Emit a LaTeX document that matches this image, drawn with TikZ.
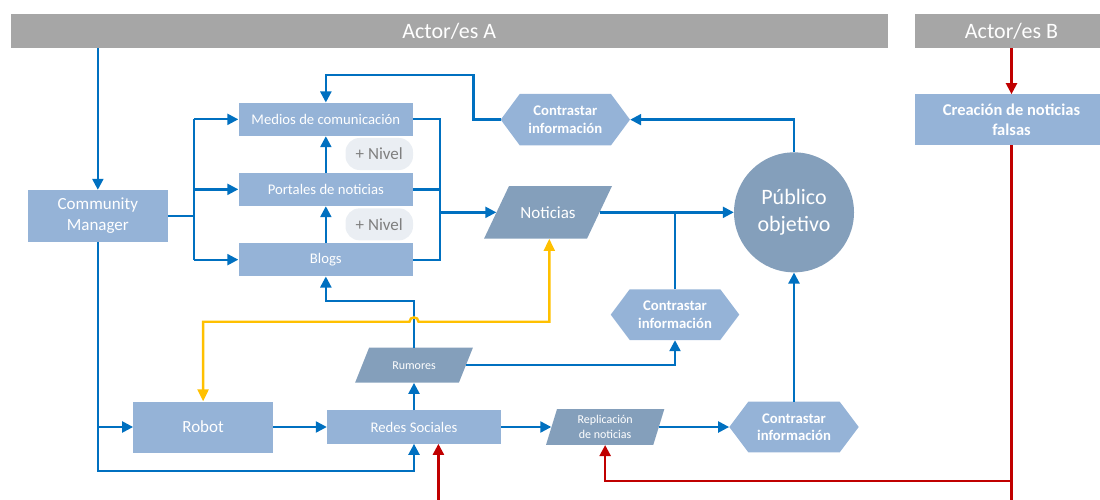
\documentclass[tikz,border=0pt]{standalone}
\usepackage{fontspec}
\setmainfont{Carlito}
\usetikzlibrary{arrows.meta}
\definecolor{boxc}{HTML}{95B3D7}
\definecolor{darkc}{HTML}{849FBB}
\definecolor{hdrc}{HTML}{A6A6A6}
\definecolor{pillc}{HTML}{EAEEF3}
\definecolor{pilltxt}{HTML}{7F7F7F}
\definecolor{lblue}{HTML}{0070C0}
\definecolor{lyel}{HTML}{FFC000}
\definecolor{lred}{HTML}{C00000}
\tikzset{
  hdr/.style={rectangle, fill=hdrc, text=white, inner sep=0pt, font=\fontsize{22}{26}\selectfont},
  box/.style={rectangle, fill=boxc, text=white, inner sep=0pt, align=center},
  pill/.style={rectangle, rounded corners=14pt, fill=pillc, text=pilltxt, inner sep=0pt,
    minimum width=67.5pt, minimum height=32pt, font=\fontsize{17}{20}\selectfont},
  hex/.style={rectangle, inner sep=0pt, align=center, text=white,
    font=\bfseries\fontsize{14.7}{17.5}\selectfont,
    path picture={\fill[boxc] (path picture bounding box.west)
      -- ([xshift=19pt]path picture bounding box.north west)
      -- ([xshift=-19pt]path picture bounding box.north east)
      -- (path picture bounding box.east)
      -- ([xshift=-19pt]path picture bounding box.south east)
      -- ([xshift=19pt]path picture bounding box.south west) -- cycle;}},
  para/.style={rectangle, inner sep=0pt, align=center, text=white,
    path picture={\fill[darkc] (path picture bounding box.south west)
      -- ([xshift=#1]path picture bounding box.north west)
      -- (path picture bounding box.north east)
      -- ([xshift=-#1]path picture bounding box.south east) -- cycle;}},
  fsA/.style={font=\fontsize{14.7}{17.5}\selectfont},
  fsB/.style={font=\fontsize{17}{20.5}\selectfont},
  fsC/.style={font=\fontsize{12}{14.6}\selectfont},
  fsD/.style={font=\fontsize{22}{27}\selectfont},
  ln/.style={draw=lblue, line width=2.3pt},
  ar/.style={ln, -{Triangle[length=11pt,width=11pt]}},
  rln/.style={draw=lred, line width=2.3pt},
  rar/.style={rln, -{Triangle[length=11pt,width=11pt]}},
  yar/.style={draw=lyel, line width=2.4pt, {Triangle[length=12pt,width=11pt]}-{Triangle[length=12pt,width=11pt]}},
}
\begin{document}
\begin{tikzpicture}[x=1pt,y=-1pt]
\useasboundingbox (0,0) rectangle (1100,500);
% headers
\node[hdr, minimum width=877.5pt, minimum height=34.3pt] (hA) at (449.25,31.15) {Actor/es A};
\node[hdr, minimum width=193pt, minimum height=34.3pt] (hB) at (1011.5,31.15) {Actor/es B};
\node[box, font=\bfseries\fontsize{16.5}{19.5}\selectfont, minimum width=193pt, minimum height=50.7pt] (crea) at (1011.5,119.7) {Creación de noticias\\falsas};
% left column
\node[box, fsB, minimum width=139.7pt, minimum height=51.7pt] (cm) at (97.85,215.85) {Community\\Manager};
\node[box, fsA, minimum width=174.7pt, minimum height=33.3pt] (med) at (325.85,119.35) {Medios de comunicación};
\node[box, fsA, minimum width=174.7pt, minimum height=33.3pt] (por) at (325.85,189.35) {Portales de noticias};
\node[box, fsA, minimum width=174.7pt, minimum height=33.3pt] (blo) at (325.85,259.65) {Blogs};
\node[pill] (p1) at (379.25,154) {+ Nivel};
\node[pill] (p2) at (379.25,224.35) {+ Nivel};
% middle
\node[hex, minimum width=129.3pt, minimum height=51.3pt] (c1) at (565.35,119.65) {Contrastar\\información};
\node[para=25pt, fsB, minimum width=128pt, minimum height=52.7pt] (not) at (548,212.35) {Noticias};
\node[circle, fill=darkc, minimum size=120pt, inner sep=0pt, text=white, align=center, fsD] (pub) at (794,212.35) {Público\\objetivo};
\node[hex, minimum width=128.6pt, minimum height=50.7pt] (c2) at (675,314.65) {Contrastar\\información};
\node[para=14pt, fsC, minimum width=117.8pt, minimum height=35pt] (rum) at (414,365.2) {Rumores};
% bottom row
\node[box, fsB, minimum width=139.6pt, minimum height=51pt] (rob) at (203.1,427) {Robot};
\node[box, fsA, minimum width=174pt, minimum height=33.3pt] (red) at (414,427) {Redes Sociales};
\node[para=11pt, fsC, minimum width=118.3pt, minimum height=35.7pt] (rep) at (605.15,427) {Replicación\\de noticias};
\node[hex, minimum width=129.4pt, minimum height=50.6pt] (c3) at (794,427) {Contrastar\\información};
% coordinates
\coordinate (b1) at (194,215.85);
\coordinate (b2) at (440,212.35);
\coordinate (l1) at (473.5,75);
\coordinate (l2) at (414,300.7);
\coordinate (l3) at (97.85,471);
\coordinate (y1) at (203.1,321.7);
\coordinate (y2) at (409.5,321.7);
\coordinate (y3) at (418.5,321.7);
\coordinate (y4) at (549.3,321.7);
\coordinate (r1) at (438.4,505);
\coordinate (r2) at (1011.5,505);
\coordinate (r3) at (1011.5,480.7);
% blue connectors
\draw[ar] (hA.south -| cm.north) -- (cm.north);
\draw[ln] (cm.east) -- (b1);
\draw[ln] (b1 |- med.west) -- (b1 |- blo.west);
\draw[ar] (b1 |- med.west) -- (med.west);
\draw[ar] (b1 |- por.west) -- (por.west);
\draw[ar] (b1 |- blo.west) -- (blo.west);
\draw[ln] (med.east) -- (med.east -| b2) -- (blo.east -| b2) -- (blo.east);
\draw[ln] (por.east) -- (por.east -| b2);
\draw[ar] (b2) -- ([xshift=12.5pt]not.west);
\draw[ar] (por.north) -- (med.south);
\draw[ar] (blo.north) -- (por.south);
\draw[ar] (c1.west) -| (l1) -| (med.north);
\draw[ar] (pub.north) |- (c1.east);
\draw[ar] ([xshift=-12.5pt]not.east) -- (pub.west);
\draw[ln] (c2.north) -- (c2.north |- not.east);
\draw[ar] (c3.north) -- (pub.south);
\draw[ar] ([xshift=-7pt]rum.east) -| (c2.south);
\draw[ar] (red.north) -- (rum.south);
\draw[ar] (rum.north) -- (l2) -| (blo.south);
\draw[ar] (rob.east) -- (red.west);
\draw[ar] (cm.south) -- (l3) -| (red.south);
\draw[ar] (cm.south |- rob.west) -- (rob.west);
\draw[ar] (red.east) -- ([xshift=5.5pt]rep.west);
\draw[ar] ([xshift=-5.5pt]rep.east) -- (c3.west);
% yellow
\draw[yar] (rob.north) -- (y1) -- (y2) .. controls (409.5,316) and (418.5,316) .. (y3) -- (y4) -- (y4 |- not.south);
% red
\draw[rar] (r1) -- (r1 |- red.south);
\draw[rar] (hB.south) -- (crea.north);
\draw[rln] (crea.south) -- (r2);
\draw[rar] (r3) -| (rep.south);
\end{tikzpicture}
\end{document}
